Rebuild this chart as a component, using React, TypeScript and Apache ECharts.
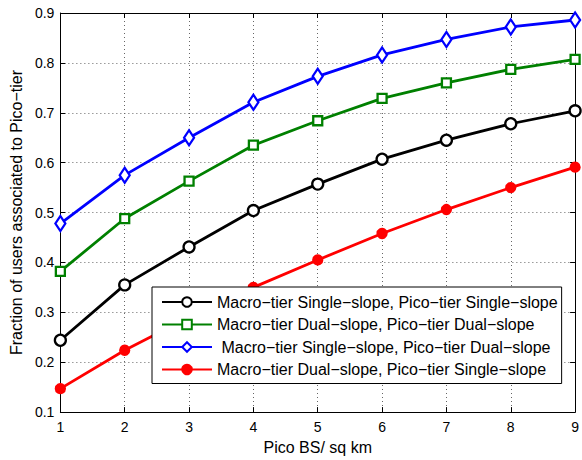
import React, { useEffect, useRef } from "react";
import * as echarts from "echarts";

const xValues = [1, 2, 3, 4, 5, 6, 7, 8, 9];
const seriesNames = [
  "Macro−tier Single−slope, Pico−tier Single−slope",
  "Macro−tier Dual−slope, Pico−tier Dual−slope",
  " Macro−tier Single−slope, Pico−tier Dual−slope",
  "Macro−tier Dual−slope, Pico−tier Single−slope",
];
const singleSingle = [0.244, 0.355, 0.431, 0.504, 0.557, 0.607, 0.645, 0.678, 0.704];
const dualDual = [0.382, 0.488, 0.563, 0.635, 0.684, 0.729, 0.76, 0.787, 0.807];
const singleDual = [0.478, 0.575, 0.65, 0.721, 0.773, 0.816, 0.847, 0.872, 0.886];
const dualSingle = [0.147, 0.224, 0.29, 0.35, 0.405, 0.458, 0.506, 0.55, 0.591];
const xTicks = [1, 2, 3, 4, 5, 6, 7, 8, 9];
const yTicks = [0.1, 0.2, 0.3, 0.4, 0.5, 0.6, 0.7, 0.8, 0.9];

const FONT = "Liberation Sans, Arial, Helvetica, sans-serif";

export default function App() {
  const ref = useRef<HTMLDivElement>(null);
  useEffect(() => {
    if (!ref.current) return;
    const chart = echarts.init(ref.current, undefined, { renderer: "svg" });
    const pair = (ys: number[]) => xValues.map((x, i) => [x, ys[i]]);
    const gridLine = { show: true, lineStyle: { color: "#666", type: [1, 3] as any, width: 1 } };
    const hidden = { show: false };
    const mk = (name: string, ys: number[], color: string, symbol: string, size: any, filled: boolean) => ({
      name,
      type: "line",
      data: pair(ys),
      symbol,
      symbolSize: size,
      showAllSymbol: true,
      lineStyle: { color, width: 2.8 },
      itemStyle: { color: filled ? color : "#fff", borderColor: color, borderWidth: 2.3 },
      z: 3,
    });
    chart.setOption({
      animation: false,
      textStyle: { fontFamily: FONT },
      grid: { left: 59, right: 3, top: 13, bottom: 43, containLabel: false },
      legend: {
        orient: "vertical",
        left: 152,
        top: 287,
        backgroundColor: "#fff",
        borderColor: "#000",
        borderWidth: 1,
        borderRadius: 0,
        padding: [7, 4, 6, 9],
        itemWidth: 50,
        itemHeight: 12,
        itemGap: 6.5,
        textStyle: { fontSize: 16, color: "#000", fontFamily: FONT },
        data: seriesNames,
        z: 10,
      },
      xAxis: [
        {
          type: "value",
          min: 1,
          max: 9,
          interval: 1,
          name: "Pico BS/ sq km",
          nameLocation: "middle",
          nameGap: 24,
          nameTextStyle: { fontSize: 16, color: "#000" },
          axisLine: { show: true, onZero: false, lineStyle: { color: "#000", width: 1 } },
          axisTick: { show: true, inside: true, length: 5, lineStyle: { color: "#000" } },
          axisLabel: { fontSize: 14, color: "#000", margin: 8, formatter: (v: number) => (xTicks.includes(v) ? String(v) : "") },
          splitLine: gridLine,
        },
        {
          type: "value",
          position: "top",
          min: 1,
          max: 9,
          interval: 1,
          axisLine: { show: true, onZero: false, lineStyle: { color: "#000", width: 1 } },
          axisTick: { show: true, inside: true, length: 5, lineStyle: { color: "#000" } },
          axisLabel: hidden,
          splitLine: hidden,
        },
      ],
      yAxis: [
        {
          type: "value",
          min: 0.1,
          max: 0.9,
          interval: 0.1,
          name: "Fraction of users associated to Pico−tier",
          nameLocation: "middle",
          nameGap: 35,
          nameTextStyle: { fontSize: 16, color: "#000" },
          axisLine: { show: true, onZero: false, lineStyle: { color: "#000", width: 1 } },
          axisTick: { show: true, inside: true, length: 5, lineStyle: { color: "#000" } },
          axisLabel: {
            fontSize: 14,
            color: "#000",
            margin: 6,
            formatter: (v: number) => {
              const t = yTicks.find((y) => Math.abs(y - v) < 1e-6);
              return t !== undefined ? t.toFixed(1) : "";
            },
          },
          splitLine: gridLine,
        },
        {
          type: "value",
          position: "right",
          min: 0.1,
          max: 0.9,
          interval: 0.1,
          axisLine: { show: true, onZero: false, lineStyle: { color: "#000", width: 1 } },
          axisTick: { show: true, inside: true, length: 5, lineStyle: { color: "#000" } },
          axisLabel: hidden,
          splitLine: hidden,
        },
      ],
      series: [
        mk(seriesNames[0], singleSingle, "#000000", "circle", 11, false),
        mk(seriesNames[1], dualDual, "#008000", "rect", 9, false),
        mk(seriesNames[2], singleDual, "#0000ff", "diamond", [10, 15], false),
        mk(seriesNames[3], dualSingle, "#ff0000", "circle", 9, true),
      ],
    });
    return () => chart.dispose();
  }, []);
  return <div ref={ref} style={{ width: 582, height: 460, position: "absolute", left: 0, top: 0 }} />;
}
